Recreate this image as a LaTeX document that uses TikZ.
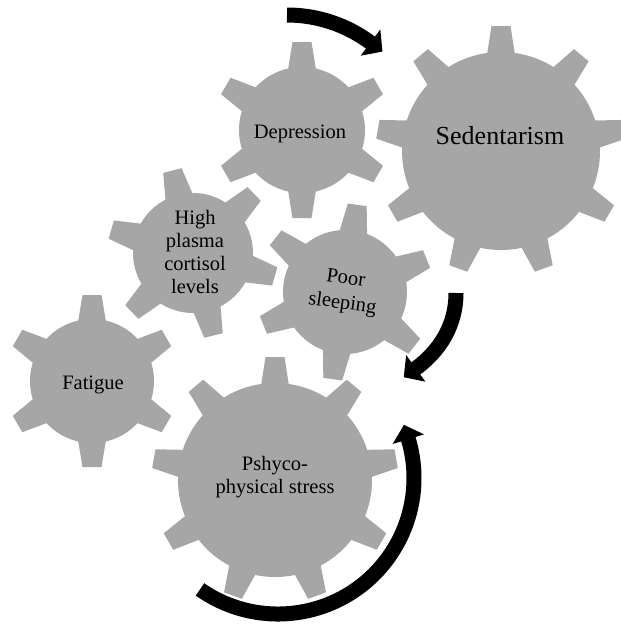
\documentclass[tikz,border=0pt]{standalone}
\usepackage{fontspec}
\setmainfont{Liberation Serif}
\newfontfamily\timesf{Liberation Serif}
\usetikzlibrary{arrows.meta}
\definecolor{gearfill}{HTML}{A6A6A6}
\newcommand{\drawgear}[6]{%
  \begin{scope}[shift={(#1,#2)}]
    \fill[gearfill] (0,0) circle[radius=#3];
    \foreach \k in {1,...,#5}{
      \fill[gearfill,rotate={#6+\k*360/#5}] ({#3-6},-14.5) -- (#4,-9.5) -- (#4,9.5) -- ({#3-6},14.5) -- cycle;
    }
  \end{scope}}
\tikzset{
  lbl/.style={font=\timesf\fontsize{20.5}{23}\selectfont, align=center, inner sep=0pt, text=black},
  biglbl/.style={font=\timesf\fontsize{26}{30}\selectfont, inner sep=0pt, text=black},
  cyc/.style={line width=15pt, black, -{Triangle[length=15pt,width=32pt]}}
}
\begin{document}
\begin{tikzpicture}[x=1pt,y=1pt]
\useasboundingbox (0,0) rectangle (621,-627);
\fill[white] (0,0) rectangle (621,-627);
% gears
\drawgear{302}{-130}{63}{88}{6}{30}
\drawgear{501}{-151}{99}{125}{9}{90}
\drawgear{193}{-253}{60}{85}{6}{44}
\drawgear{345}{-292}{62}{88}{6}{22}
\drawgear{92}{-381}{62}{86}{6}{30}
\drawgear{275}{-480}{97}{123}{9}{90}
% labels
\node[lbl, anchor=base] (dep) at (300,-138) {Depression};
\node[biglbl, anchor=base] (sed) at (500,-144) {Sedentarism};
\node[lbl] (cort) at (195,-252) {High\\plasma\\cortisol\\levels};
\node[lbl, rotate=-8, font=\timesf\fontsize{20.5}{25}\selectfont] (sleep) at (344,-292) {Poor\\sleeping};
\node[lbl, anchor=base] (fat) at (93,-389) {Fatigue};
\node[lbl] (stress) at (275,-477) {Pshyco-\\physical stress};
% arrows
\coordinate (c1) at (287,-155);
\coordinate (c3) at (278,-478);
\draw[cyc] (c1) ++(90:140) arc[start angle=90, end angle=53, radius=140] -- ++(11.2,-8.4);
\draw[cyc] (456,-293) .. controls (456,-325) and (440,-351) .. (415,-369) -- ++(-11.3,-8.2);
\draw[cyc] (c3) ++(235:136) arc[start angle=235, end angle=377, radius=136] -- ++(-4.1,13.4);
\end{tikzpicture}
\end{document}
